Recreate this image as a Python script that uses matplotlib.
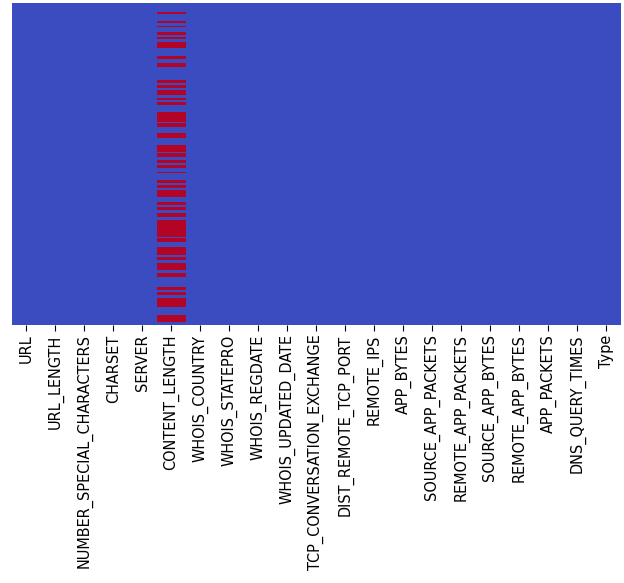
import numpy as np
import pandas as pd
import matplotlib
matplotlib.use("Agg")
import matplotlib.pyplot as plt
import seaborn as sns

columns = ["URL", "URL_LENGTH", "NUMBER_SPECIAL_CHARACTERS", "CHARSET", "SERVER",
           "CONTENT_LENGTH", "WHOIS_COUNTRY", "WHOIS_STATEPRO", "WHOIS_REGDATE",
           "WHOIS_UPDATED_DATE", "TCP_CONVERSATION_EXCHANGE", "DIST_REMOTE_TCP_PORT",
           "REMOTE_IPS", "APP_BYTES", "SOURCE_APP_PACKETS", "REMOTE_APP_PACKETS",
           "SOURCE_APP_BYTES", "REMOTE_APP_BYTES", "APP_PACKETS", "DNS_QUERY_TIMES", "Type"]
n_rows = 1781

# row ranges (start, end) of missing values in CONTENT_LENGTH
content_length_missing = [
    (50, 61), (100, 111), (127, 133), (160, 177), (188, 199), (216, 249),
    (293, 310), (332, 354), (426, 442), (454, 470), (481, 509), (525, 536),
    (548, 564), (603, 658), (664, 686), (719, 747), (785, 824), (830, 852),
    (868, 885), (896, 913), (935, 940), (979, 996), (1007, 1023), (1034, 1073),
    (1101, 1117), (1128, 1145), (1162, 1184), (1200, 1294), (1300, 1322),
    (1350, 1394), (1405, 1421), (1438, 1477), (1493, 1515), (1571, 1587),
    (1598, 1615), (1632, 1681), (1726, 1764),
]

mask = pd.DataFrame(False, index=range(n_rows), columns=columns)
for s, e in content_length_missing:
    mask.loc[s:e, "CONTENT_LENGTH"] = True

plt.rcParams['font.family'] = ["DejaVu Sans"]

fig = plt.figure(figsize=(6.24, 5.83), dpi=100)
ax = fig.add_axes([0.019, 0.443, 0.976, 0.552])
sns.heatmap(mask.astype(int), cmap="coolwarm", cbar=False, yticklabels=False,
            vmin=0, vmax=1, ax=ax)
ax.set_xticks(np.arange(len(columns)) + 0.5)
ax.set_xticklabels(columns, rotation=90, fontsize=11.6, fontstretch='condensed')
ax.tick_params(axis='x', length=4, width=0.8, pad=3)
ax.set_ylabel("")
fig.savefig("out.png", dpi=100)
